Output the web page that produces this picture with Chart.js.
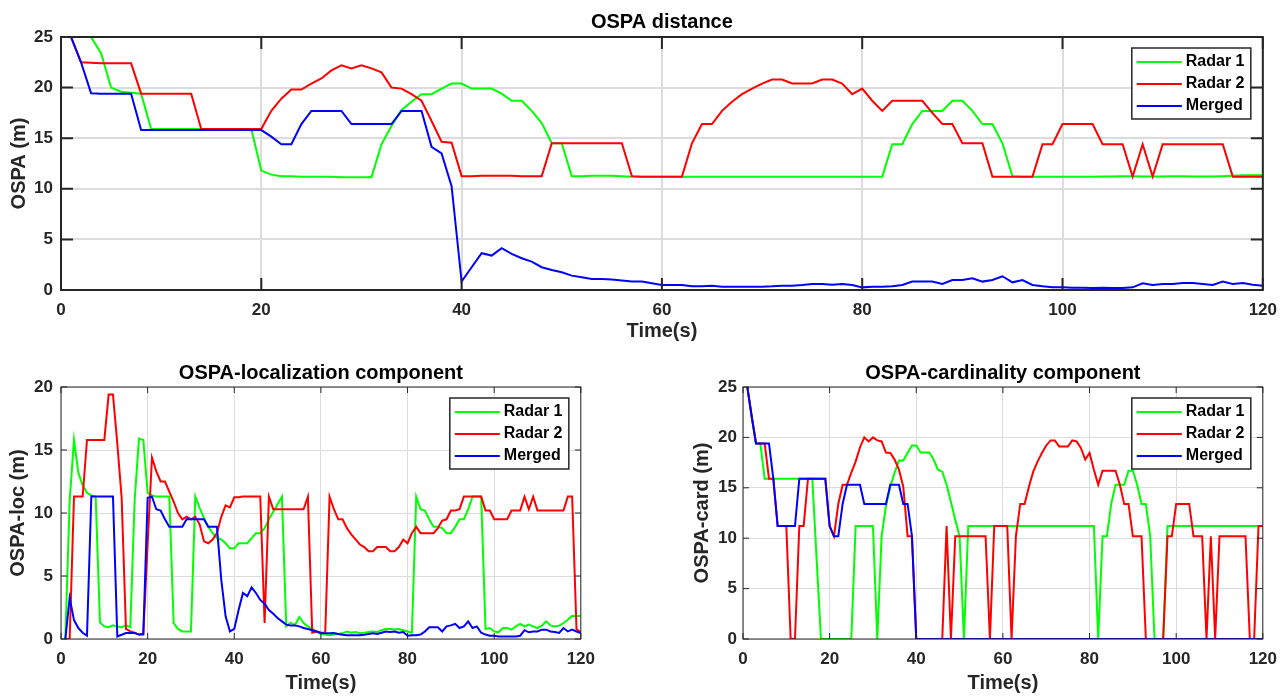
<!DOCTYPE html>
<html>
<head>
<meta charset="utf-8">
<title>OSPA distance</title>
<script src="https://cdn.jsdelivr.net/npm/chart.js@4.4.1/dist/chart.umd.min.js"></script>
<style>
  body { margin: 0; background: #fff; width: 1287px; height: 697px; position: relative; overflow: hidden; }
  .plot { position: absolute; }
</style>
</head>
<body>
<div class="plot" style="left:0;top:0;width:1287px;height:345px"><canvas id="ospaTotal"></canvas></div>
<div class="plot" style="left:0;top:345px;width:605px;height:352px"><canvas id="ospaLoc"></canvas></div>
<div class="plot" style="left:680px;top:345px;width:607px;height:352px"><canvas id="ospaCard"></canvas></div>
<script>
// time steps (s)
const timeS = [
  1,2,3,4,5,6,7,8,9,10, 11,12,13,14,15,16,17,18,19,20,
  21,22,23,24,25,26,27,28,29,30, 31,32,33,34,35,36,37,38,39,40,
  41,42,43,44,45,46,47,48,49,50, 51,52,53,54,55,56,57,58,59,60,
  61,62,63,64,65,66,67,68,69,70, 71,72,73,74,75,76,77,78,79,80,
  81,82,83,84,85,86,87,88,89,90, 91,92,93,94,95,96,97,98,99,100,
  101,102,103,104,105,106,107,108,109,110, 111,112,113,114,115,116,117,118,119,120
];
const seriesNames = ['Radar 1', 'Radar 2', 'Merged'];

// OSPA distance
const totalRadar1 = [
  25,25,25,23.4,20.0,19.6,19.5,19.4,15.9,15.9,
  15.9,15.9,15.9,15.9,15.9,15.9,15.9,15.9,15.9,11.8,
  11.4,11.25,11.25,11.2,11.2,11.2,11.2,11.15,11.15,11.15,
  11.15,14.4,16.2,17.8,18.6,19.35,19.35,19.9,20.4,20.4,
  19.9,19.9,19.9,19.4,18.7,18.7,17.7,16.5,14.5,14.5,
  11.25,11.25,11.3,11.3,11.3,11.25,11.2,11.2,11.2,11.2,
  11.2,11.2,11.2,11.2,11.2,11.2,11.2,11.2,11.2,11.2,
  11.2,11.2,11.2,11.2,11.2,11.2,11.2,11.2,11.2,11.2,
  11.2,11.2,14.4,14.4,16.4,17.7,17.7,17.7,18.7,18.7,
  17.7,16.4,16.4,14.5,11.25,11.2,11.2,11.2,11.2,11.2,
  11.2,11.2,11.2,11.22,11.22,11.25,11.25,11.22,11.22,11.22,
  11.25,11.25,11.22,11.22,11.22,11.25,11.3,11.35,11.35,11.35
];
const totalRadar2 = [
  25,22.5,22.45,22.4,22.4,22.4,22.4,19.4,19.4,19.4,
  19.4,19.4,19.4,15.9,15.9,15.9,15.9,15.9,15.9,15.9,
  17.7,18.9,19.8,19.8,20.4,20.9,21.7,22.2,21.9,22.2,
  21.9,21.5,20.0,19.9,19.35,18.7,16.7,14.65,14.55,11.25,
  11.25,11.3,11.3,11.3,11.3,11.25,11.25,11.25,14.5,14.5,
  14.5,14.5,14.5,14.5,14.5,14.5,11.25,11.2,11.2,11.2,
  11.2,11.2,14.5,16.4,16.4,17.7,18.6,19.35,19.9,20.4,
  20.8,20.8,20.4,20.4,20.4,20.8,20.8,20.4,19.35,19.9,
  18.7,17.7,18.7,18.7,18.7,18.7,17.5,16.4,16.4,14.5,
  14.5,14.5,11.2,11.2,11.2,11.2,11.2,14.4,14.4,16.4,
  16.4,16.4,16.4,14.4,14.4,14.4,11.2,14.4,11.2,14.4,
  14.4,14.4,14.4,14.4,14.4,14.4,11.2,11.2,11.2,11.2
];
const totalMerged = [
  25,22.5,19.45,19.4,19.4,19.4,19.4,15.8,15.8,15.8,
  15.8,15.8,15.8,15.8,15.8,15.8,15.8,15.8,15.8,15.8,
  15.15,14.4,14.4,16.4,17.7,17.7,17.7,17.7,16.4,16.4,
  16.4,16.4,16.4,17.7,17.7,17.7,14.15,13.5,10.25,0.83,
  2.25,3.64,3.4,4.13,3.57,3.14,2.8,2.25,1.98,1.75,
  1.42,1.26,1.09,1.09,1.03,0.93,0.83,0.83,0.66,0.5,
  0.5,0.5,0.36,0.36,0.43,0.33,0.33,0.33,0.33,0.33,
  0.36,0.43,0.43,0.5,0.6,0.6,0.53,0.6,0.5,0.26,
  0.33,0.33,0.36,0.5,0.83,0.83,0.83,0.6,0.99,0.99,
  1.16,0.83,0.99,1.36,0.76,0.99,0.5,0.36,0.26,0.26,
  0.23,0.23,0.2,0.23,0.2,0.2,0.26,0.66,0.5,0.6,
  0.6,0.7,0.7,0.6,0.5,0.83,0.6,0.7,0.53,0.43
];

// OSPA-localization component
const locRadar1 = [
  0,11.0,15.8,13.2,12.2,11.6,11.4,11.3,1.3,1.0,
  0.93,1.08,1.0,0.93,1.08,0.93,11.0,15.9,15.8,11.6,
  11.4,11.3,11.3,11.3,11.3,1.27,0.8,0.6,0.6,0.6,
  11.3,10.4,9.6,8.9,8.4,8.0,7.9,7.6,7.2,7.2,
  7.6,7.6,7.6,8.0,8.4,8.4,8.8,9.5,10.1,10.7,
  11.3,1.0,1.3,1.1,1.75,1.27,1.0,0.8,0.6,0.4,
  0.35,0.3,0.35,0.4,0.45,0.6,0.5,0.55,0.45,0.5,
  0.55,0.6,0.55,0.7,0.8,0.8,0.75,0.8,0.7,0.6,
  0.5,11.3,10.3,10.2,9.5,8.9,8.9,8.8,8.4,8.4,
  8.9,9.5,9.5,10.3,11.3,11.3,11.3,0.8,0.87,0.6,
  0.53,0.87,0.87,0.74,1.0,1.2,1.0,1.14,1.0,0.87,
  1.06,1.4,1.08,1.0,1.06,1.27,1.53,1.85,1.8,1.85
];
const locRadar2 = [
  0,0,11.3,11.3,11.3,15.8,15.8,15.8,15.8,15.8,
  19.4,19.4,15.5,11.2,0.8,0.6,0.5,0.35,0.4,7.5,
  14.4,13.3,12.5,12.5,11.7,10.9,10.0,9.5,9.7,9.5,
  9.7,9.1,7.75,7.6,7.9,8.4,9.7,10.6,10.45,11.25,
  11.25,11.3,11.3,11.3,11.3,11.3,1.27,11.3,10.3,10.3,
  10.3,10.3,10.3,10.3,10.3,10.3,11.3,0.5,0.6,0.5,
  0.5,11.3,10.3,9.5,9.5,8.8,8.3,7.9,7.5,7.3,
  6.96,6.96,7.3,7.3,7.3,6.96,6.96,7.3,7.9,7.6,
  8.4,8.9,8.4,8.4,8.4,8.4,8.8,9.4,9.5,10.2,
  10.2,10.3,11.3,11.3,11.3,11.3,11.3,10.2,10.2,9.5,
  9.5,9.5,9.5,10.2,10.2,10.2,11.3,10.3,11.3,10.2,
  10.2,10.2,10.2,10.2,10.2,10.2,11.3,11.3,0.8,0.5
];
const locMerged = [
  0,3.25,1.5,0.87,0.5,0.26,11.3,11.3,11.3,11.3,
  11.3,11.3,0.2,0.34,0.48,0.48,0.48,0.35,0.35,11.2,
  11.3,10.3,10.2,9.5,8.9,8.9,8.9,8.9,9.5,9.5,
  9.5,9.5,9.5,8.9,8.9,8.9,4.7,1.8,0.6,0.8,
  2.3,3.65,3.4,4.1,3.65,3.1,2.8,2.3,2.0,1.67,
  1.4,1.14,1.08,1.08,1.0,0.87,0.8,0.7,0.6,0.48,
  0.45,0.45,0.48,0.4,0.34,0.3,0.3,0.3,0.3,0.34,
  0.4,0.45,0.4,0.5,0.6,0.55,0.6,0.5,0.55,0.26,
  0.3,0.3,0.35,0.6,0.93,0.93,0.93,0.6,1.0,1.08,
  1.2,0.87,1.0,1.4,0.87,1.0,0.5,0.35,0.26,0.26,
  0.2,0.2,0.2,0.2,0.2,0.26,0.7,0.53,0.6,0.6,
  0.74,0.74,0.6,0.55,0.48,0.87,0.6,0.74,0.6,0.48
];

// OSPA-cardinality component
const cardRadar1 = [
  25,22.1,19.4,19.4,15.9,15.9,15.9,15.9,15.9,15.9,
  15.9,15.9,15.9,15.9,15.9,15.9,7.9,0,0,0,
  0,0,0,0,0,11.2,11.2,11.2,11.2,11.2,
  0,10.2,13.2,15.1,16.5,17.7,17.7,18.45,19.2,19.2,
  18.5,18.5,18.5,17.8,16.8,16.6,15.3,13.6,11.8,10.2,
  0,11.2,11.2,11.2,11.2,11.2,11.2,11.2,11.2,11.2,
  11.2,11.2,11.2,11.2,11.2,11.2,11.2,11.2,11.2,11.2,
  11.2,11.2,11.2,11.2,11.2,11.2,11.2,11.2,11.2,11.2,
  11.2,0,10.2,10.2,13.4,15.3,15.3,15.3,16.7,16.7,
  15.3,13.4,13.4,10.2,0,0,0,11.2,11.2,11.2,
  11.2,11.2,11.2,11.2,11.2,11.2,11.2,11.2,11.2,11.2,
  11.2,11.2,11.2,11.2,11.2,11.2,11.2,11.2,11.2,11.2
];
const cardRadar2 = [
  25,22.1,19.4,19.4,19.4,15.9,15.9,11.2,11.2,11.2,
  0,0,11.2,11.2,15.9,15.9,15.9,15.9,15.9,11.2,
  10.2,13.4,15.3,15.3,16.5,17.6,19.0,20.0,19.6,20.0,
  19.7,19.6,18.5,18.45,17.8,16.8,15.1,10.2,10.2,0,
  0,0,0,0,0,0,11.2,0,10.2,10.2,
  10.2,10.2,10.2,10.2,10.2,10.2,0,11.2,11.2,11.2,
  11.2,0,10.2,13.4,13.4,15.1,16.6,17.6,18.45,19.2,
  19.7,19.7,19.1,19.1,19.1,19.7,19.6,18.95,17.8,18.45,
  16.8,15.3,16.7,16.7,16.7,16.7,15.3,13.4,13.4,10.2,
  10.2,10.2,0,0,0,0,0,10.2,10.2,13.4,
  13.4,13.4,13.4,10.2,10.2,10.2,0,10.2,0,10.2,
  10.2,10.2,10.2,10.2,10.2,10.2,0,0,11.2,11.2
];
const cardMerged = [
  25,22.1,19.4,19.4,19.4,19.4,15.9,11.2,11.2,11.2,
  11.2,11.2,15.9,15.9,15.9,15.9,15.9,15.9,15.9,11.2,
  10.2,10.2,13.4,15.3,15.3,15.3,15.3,13.4,13.4,13.4,
  13.4,13.4,13.4,15.3,15.3,15.3,13.4,13.4,10.2,0,
  0,0,0,0,0,0,0,0,0,0,
  0,0,0,0,0,0,0,0,0,0,
  0,0,0,0,0,0,0,0,0,0,
  0,0,0,0,0,0,0,0,0,0,
  0,0,0,0,0,0,0,0,0,0,
  0,0,0,0,0,0,0,0,0,0,
  0,0,0,0,0,0,0,0,0,0,
  0,0,0,0,0,0,0,0,0,0
];

const seriesColors = ['#00ff00', '#ff0000', '#0000ff'];
const axisColor = '#262626';
const fontFamily = '"Liberation Sans", Arial, Helvetica, sans-serif';

Chart.defaults.font.family = fontFamily;
Chart.defaults.animation = false;

// matlab style box with inward ticks on all four sides
const axesBox = {
  id: 'axesBox',
  afterDatasetsDraw(chart, args, opts) {
    const { ctx, chartArea: a, scales: { x, y } } = chart;
    ctx.save();
    ctx.strokeStyle = axisColor;
    ctx.lineWidth = opts.width;
    ctx.beginPath();
    x.ticks.forEach(t => {
      const px = x.getPixelForValue(t.value);
      ctx.moveTo(px, a.bottom); ctx.lineTo(px, a.bottom - opts.tick);
      ctx.moveTo(px, a.top); ctx.lineTo(px, a.top + opts.tick);
    });
    y.ticks.forEach(t => {
      const py = y.getPixelForValue(t.value);
      ctx.moveTo(a.left, py); ctx.lineTo(a.left + opts.tick, py);
      ctx.moveTo(a.right, py); ctx.lineTo(a.right - opts.tick, py);
    });
    ctx.stroke();
    ctx.strokeRect(a.left, a.top, a.right - a.left, a.bottom - a.top);
    ctx.restore();
  }
};

// boxed legend in the north-east corner
const boxLegend = {
  id: 'boxLegend',
  afterDraw(chart) {
    const { ctx, chartArea: a } = chart;
    const w = 119, h = 71;
    const left = a.right - 12 - w, top = a.top + 11;
    ctx.save();
    ctx.fillStyle = '#fff';
    ctx.fillRect(left, top, w, h);
    ctx.strokeStyle = axisColor;
    ctx.lineWidth = 1.5;
    ctx.strokeRect(left, top, w, h);
    ctx.font = 'bold 16px ' + fontFamily;
    ctx.textBaseline = 'middle';
    chart.data.datasets.forEach((ds, i) => {
      const cy = top + 14 + i * 22;
      ctx.strokeStyle = ds.borderColor;
      ctx.lineWidth = 2;
      ctx.beginPath();
      ctx.moveTo(left + 5, cy);
      ctx.lineTo(left + 50, cy);
      ctx.stroke();
      ctx.fillStyle = '#000';
      ctx.fillText(ds.label, left + 54, cy);
    });
    ctx.restore();
  }
};

function buildChart(id, titleText, yTitle, series, yMax, g) {
  const datasets = series.map((vals, i) => ({
    label: seriesNames[i],
    data: timeS.map((t, k) => ({ x: t, y: vals[k] })),
    borderColor: seriesColors[i],
    backgroundColor: seriesColors[i],
    borderWidth: 2,
    pointRadius: 0,
    tension: 0,
    order: 3 - i
  }));
  const tickFont = { size: 17, weight: 'bold' };
  const labelFont = { size: 20, weight: 'bold' };
  return new Chart(document.getElementById(id), {
    type: 'line',
    data: { datasets },
    plugins: [axesBox, boxLegend],
    options: {
      responsive: true,
      maintainAspectRatio: false,
      layout: { padding: { left: 0, right: g.padRight, top: 0, bottom: 0 } },
      plugins: {
        legend: { display: false },
        tooltip: { enabled: false },
        title: {
          display: true,
          text: titleText,
          color: '#000',
          fullSize: false,
          font: { size: 20, weight: 'bold' },
          padding: { top: g.titleTop, bottom: g.titleBottom }
        },
        axesBox: { width: g.boxW, tick: g.tick }
      },
      scales: {
        x: {
          type: 'linear',
          min: 0,
          max: 120,
          ticks: { stepSize: 20, color: axisColor, font: tickFont, padding: 10, maxRotation: 0 },
          grid: { color: '#dcdcdc', lineWidth: g.gridW, drawTicks: false },
          border: { display: false },
          title: { display: true, text: 'Time(s)', color: axisColor, font: labelFont, padding: { top: 0, bottom: 2 } },
          afterFit: s => { s.height = g.xh; }
        },
        y: {
          min: 0,
          max: yMax,
          ticks: { stepSize: 5, color: axisColor, font: tickFont, padding: g.yTickPad },
          grid: { color: '#dcdcdc', lineWidth: g.gridW, drawTicks: false },
          border: { display: false },
          title: { display: true, text: yTitle, color: axisColor, font: labelFont, padding: { top: g.yTitlePad, bottom: 0 } },
          afterFit: s => { s.width = g.yw; }
        }
      }
    }
  });
}

buildChart('ospaTotal', 'OSPA distance', 'OSPA (m)',
  [totalRadar1, totalRadar2, totalMerged], 25,
  { yw: 61, xh: 55, padRight: 24, titleTop: 10, titleBottom: 3, yTitlePad: 7, yTickPad: 8, gridW: 2, boxW: 2, tick: 12 });

buildChart('ospaLoc', 'OSPA-localization component', 'OSPA-loc (m)',
  [locRadar1, locRadar2, locMerged], 20,
  { yw: 61, xh: 58, padRight: 24, titleTop: 16, titleBottom: 2, yTitlePad: 6.5, yTickPad: 8, gridW: 1, boxW: 1, tick: 6 });

buildChart('ospaCard', 'OSPA-cardinality component', 'OSPA-card (m)',
  [cardRadar1, cardRadar2, cardMerged], 25,
  { yw: 63, xh: 58, padRight: 24, titleTop: 16, titleBottom: 2, yTitlePad: 10, yTickPad: 6, gridW: 1, boxW: 1, tick: 6 });
</script>
</body>
</html>
